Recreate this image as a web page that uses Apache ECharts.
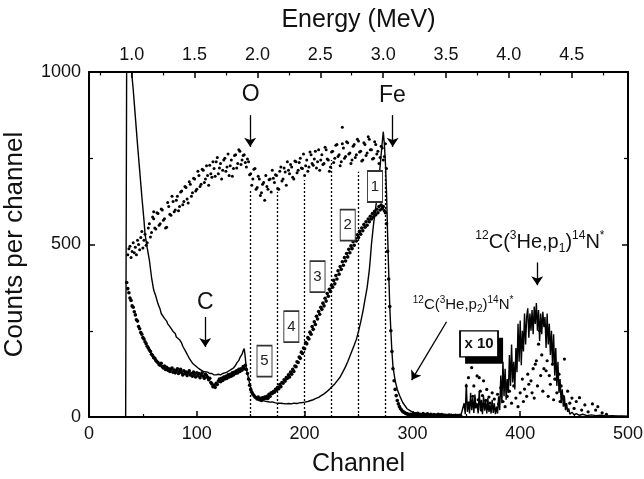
<!DOCTYPE html>
<html><head><meta charset="utf-8">
<script src="https://cdn.jsdelivr.net/npm/echarts@6/dist/echarts.min.js"></script>
<style>html,body{margin:0;padding:0;background:#fff}#c{width:644px;height:479px}</style>
</head><body><div id="c"></div>
<script>
// ---------- axes / ticks ----------
const channelTicks = [0, 100, 200, 300, 400, 500];
const countTicks = [0, 500, 1000];
const energyLabels = [1.0, 1.5, 2.0, 2.5, 3.0, 3.5, 4.0, 4.5];
const energyMinor = [0.75, 1.25, 1.75, 2.25, 2.75, 3.25, 3.75, 4.25, 4.75];
const energyRange = [0.66, 4.948];   // energy at channel 0 and channel 500

// ---------- upper dotted spectrum (one point per channel from 36) ----------
const upperStart = 36;
const upperCounts = [
 470,488,495,462,480,505,476,492,470,512,
 500,485,520,538,490,512,530,498,505,548,
 560,522,535,580,575,548,545,592,590,556,
 560,603,600,570,575,548,550,622,610,588,
 585,640,625,595,600,628,640,598,610,652,
 655,615,625,668,665,632,620,682,675,640,
 650,692,690,655,660,712,700,668,675,718,
 715,680,690,728,700,672,730,705,695,740,
 720,698,740,752,705,722,735,690,715,745,
 750,712,725,762,700,728,745,698,720,758,
 760,722,735,775,770,732,745,758,760,738,
 725,748,740,702,705,672,690,718,720,660,
 665,698,690,642,650,675,680,628,700,668,
 660,688,690,652,715,692,680,702,700,662,
 660,712,725,684,690,722,710,672,740,715,
 705,732,725,695,690,742,740,708,715,738,
 750,722,720,762,700,728,745,712,725,768,
 760,735,730,748,770,722,740,775,715,745,
 760,732,735,782,775,748,745,712,725,768,
 770,738,750,788,790,755,760,728,740,792,
 780,750,755,798,795,762,765,735,745,785,
 790,752,760,805,800,768,770,742,745,795,
 790,758,765,812,805,775,775,748,750,798,
 790,762,770,735,752,785,780,745,755,792,
 720
];
const upperExtraCh = [235, 60];
const upperExtraCounts = [840, 595];

// ---------- lower dotted spectrum (one point per channel from 35) ----------
const lowerStart = 35;
const lowerCounts = [
 390,372,360,345,338,322,318,305,296,282,
 278,262,256,245,240,230,226,218,212,205,
 200,194,190,182,178,172,170,164,160,158,
 152,150,156,146,142,148,138,144,136,140,
 132,138,142,130,136,128,134,140,126,132,
 138,128,122,134,126,130,120,128,134,122,
 126,118,130,124,116,128,120,126,114,122,
 128,118,112,124,120,115,108,112,100,96,
 88,92,86,98,94,104,110,102,112,106,
 116,110,118,112,122,116,124,118,128,122,
 130,126,134,128,138,132,140,136,146,140,
 150,138,126,110,92,80,72,66,62,58,
 56,52,58,50,54,48,56,52,58,54,
 60,54,66,60,70,68,74,72,80,78,
 86,82,94,88,100,98,108,104,114,112,
 122,116,130,124,138,132,148,146,160,158,
 174,170,188,184,200,198,216,212,230,226,
 246,240,262,254,276,268,292,284,306,298,
 318,312,330,322,344,336,358,350,370,364,
 382,376,396,386,410,400,424,414,436,428,
 450,440,462,452,474,464,486,476,496,488,
 508,498,518,510,528,520,538,530,548,540,
 558,550,566,556,574,566,582,574,590,580,
 596,586,602,592,610,600,614,604,610,598,
 592,560,480,400,320,250,190,140,105,80,
 62,48,38,30,24,20,16,14,12,10,
 9,8,7,8,6,7,
 6,9,4,7,11,5,8,3,6,10,
 4,7,5,9,3,6,8,4,5,7,
 3,6,4,8,5,3,7,4,6,3,
 5,2,4,6,3,5,2,4,3,5,
 2,4,3,5,2
];

// ---------- dotted points in the x10 region ----------
const x10DotCh = [350,352,353,355,356,357,358,360,361,362,363,364,365,366,367,368,369,370,371,372,374,375,376,378,379,380,382,384,386,388,390,392,394,396,398,400,402,403,404,406,407,408,410,411,412,413,414,415,416,417,418,419,420,421,422,424,425,426,427,428,430,431,432,433,434,436,437,438,440,441,442,444,446,448,450,452,455,457,460,463,467,470,472,476,480];
const x10DotCounts = [90,114,40,143,60,90,30,119,50,114,75,20,62,105,35,48,80,25,58,40,70,30,52,20,66,38,85,45,30,60,75,40,90,55,30,70,110,45,81,60,124,95,105,70,140,55,153,163,90,211,250,120,180,75,140,134,163,60,120,95,153,50,110,110,70,124,45,90,60,168,35,75,40,55,25,45,56,20,35,15,38,20,30,12,8];

// ---------- solid spectrum ----------
const solidCh = [0,34,35,38,39.5,41,43,45,47,49,51,52,54,56,58,60,62,64,66,67,68,70,72,73,75,78,80,81,84,86,87,90,92,93,96,99,102,104,106,110,112,114,116,118,120,122,124,126,128,130,132,134,136,137,139,140,142,143,144,145,146,148,149,151,153,156,158,160,163,165,168,170,173,175,178,180,183,185,188,190,193,195,198,200,203,205,208,210,213,215,218,220,223,225,228,230,233,235,238,240,242,244,246,248,250,252,254,255,256,258,260,261,262,263,264,265,267,268,270,271,272,273,274,275,276,277,278,279,280,281,282,284,286,288,291,295,300,305,310,315,320,325,330,335,340,345,
 346,348,349,350,351,352,353,354,355,356,357,358,359,360,361,362,363,364,365,366,367,368,369,370,371,372,373,374,375,376,377,378,379,380,381,382,383,384,385,386,387,388,389,390,391,392,393,394,395,396,397,398,399,400,401,402,403,404,405,406,407,408,409,410,411,412,413,414,415,416,417,418,419,420,421,422,423,424,425,426,427,428,429,430,431,432,433,434,435,436,437,438,439,440,441,442,443,444,445,446,448,450,452,455,458,462,466,470,475,480,485,490,495,500];
const solidCounts = [0,0,1100,1100,1000,950,870,790,715,640,570,530,490,455,405,368,350,328,312,300,305,286,278,270,262,248,242,232,224,214,205,188,176,170,156,148,140,136,132,130,126,126,122,122,124,122,126,128,130,134,138,142,150,156,164,172,182,192,198,172,138,112,96,76,63,54,50,48,46,45,43,44,41,40,40,39,38,39,38,40,39,41,42,43,45,47,50,53,57,61,67,72,80,87,96,104,116,128,146,160,176,192,208,225,248,275,305,322,340,375,425,460,500,530,560,585,632,660,725,760,795,827,790,735,650,530,420,320,250,190,145,105,80,63,42,24,14,10,8,7,7,6,6,5,6,5,
 5,40,8,96,15,45,10,70,20,55,12,65,25,40,10,75,20,50,8,60,18,45,10,55,15,35,10,50,12,40,8,30,10,60,20,120,40,160,60,140,50,110,70,180,90,210,100,160,80,200,130,270,160,280,150,250,190,300,210,290,315,230,300,250,310,240,320,270,330,250,310,220,300,240,305,260,290,200,300,210,270,180,250,150,240,120,200,90,160,70,110,40,80,30,60,20,40,15,25,8,14,6,10,5,8,4,6,4,5,3,4,3,3,2];

// ---------- region boundaries and labels ----------
const boundCh = [150, 175, 200, 225, 250, 275];
const boundTop = [658, 653, 687, 745, 711, 725];
const boxLabels = ['1', '2', '3', '4', '5'];
const boxCh = [265.3, 240, 212, 187.7, 162.8];
const boxCounts = [668, 556, 407, 262, 162];
const x10Label = 'x 10';
const x10Pos = [361.8, 212];
const x10ShadowPos = [366.5, 192];

// ---------- text annotations and arrows ----------
const noteTexts = ['O', 'Fe', 'C',
  '{s|12}C({s|3}He,p{b|1}){s|14}N{s|*}',
  '{t|12}C({t|3}He,p{u|2}){t|14}N{t|*}'];
const noteCh = [150, 281.5, 108, 418.3, 347];
const noteCounts = [933, 930, 330, 506, 325];
const noteSizes = [23, 23, 23, 20, 15];
const arrowFrom = [[149.5, 875], [281.7, 875], [107.8, 290], [415.8, 448], [331.7, 276]];
const arrowTo   = [[149.5, 783], [281.7, 783], [107.8, 203], [415.8, 382], [299.3, 107]];

// ---------- build ----------
const FONT = '"Liberation Sans", Arial, Helvetica, sans-serif';
const upperData = upperCounts.map((v, i) => [upperStart + i, v]).concat(upperExtraCh.map((c, i) => [c, upperExtraCounts[i]]));
const lowerData = lowerCounts.map((v, i) => [lowerStart + i, v]);
const x10DotData = x10DotCh.map((c, i) => [c, x10DotCounts[i]]);
const solidData = solidCh.map((c, i) => [c, solidCounts[i]]);

const axisLineStyle = {color: '#000', width: 2};
const tickStyle = {color: '#000', width: 1.5};
const labelStyle = {fontSize: 18, color: '#111', fontFamily: FONT};
const nameStyle = {fontSize: 25, color: '#111', fontFamily: FONT};
const gridBox = {left: 89, right: 16, top: 72, bottom: 62, outerBoundsMode: 'none', containLabel: false};

const chart = echarts.init(document.getElementById('c'), null, {renderer: 'canvas'});
chart.setOption({
  animation: false,
  backgroundColor: '#fff',
  grid: [Object.assign({}, gridBox), Object.assign({}, gridBox)],
  xAxis: [
    {type: 'value', gridIndex: 0, position: 'bottom', min: 0, max: 500, interval: 100,
     axisLine: {show: true, onZero: false, lineStyle: axisLineStyle},
     axisTick: {show: true, inside: true, length: 6, lineStyle: tickStyle},
     minorTick: {show: true, splitNumber: 2, length: 3, lineStyle: {color: '#000', width: 1.2}},
     splitLine: {show: false}, minorSplitLine: {show: false},
     axisLabel: Object.assign({margin: 8, customValues: channelTicks, formatter: v => String(v)}, labelStyle),
     name: 'Channel', nameLocation: 'middle', nameGap: 35, nameTextStyle: nameStyle},
    {type: 'value', gridIndex: 0, position: 'top', min: energyRange[0], max: energyRange[1],
     axisLine: {show: true, onZero: false, lineStyle: axisLineStyle},
     axisTick: {show: true, inside: true, length: 6, customValues: energyLabels, lineStyle: tickStyle},
     splitLine: {show: false},
     axisLabel: Object.assign({margin: 8, customValues: energyLabels, formatter: v => v.toFixed(1)}, labelStyle),
     name: 'Energy (MeV)', nameLocation: 'middle', nameGap: 39, nameTextStyle: nameStyle},
    {type: 'value', gridIndex: 1, position: 'top', min: energyRange[0], max: energyRange[1],
     axisLine: {show: false, onZero: false},
     axisTick: {show: true, inside: true, length: 3.5, customValues: energyMinor, lineStyle: {color: '#000', width: 1.2}},
     splitLine: {show: false}, axisLabel: {show: false}}
  ],
  yAxis: [
    {type: 'value', gridIndex: 0, position: 'left', min: 0, max: 1000, interval: 500,
     axisLine: {show: true, onZero: false, lineStyle: axisLineStyle},
     axisTick: {show: true, inside: true, length: 6, lineStyle: tickStyle},
     minorTick: {show: true, splitNumber: 2, length: 4, lineStyle: {color: '#000', width: 1.2}},
     splitLine: {show: false}, minorSplitLine: {show: false},
     axisLabel: Object.assign({margin: 8, customValues: countTicks, formatter: v => String(v)}, labelStyle),
     name: 'Counts per channel', nameLocation: 'middle', nameGap: 61, nameRotate: 90,
     nameTextStyle: Object.assign({}, nameStyle, {fontSize: 26})},
    {type: 'value', gridIndex: 0, position: 'right', min: 0, max: 1000, interval: 500,
     axisLine: {show: true, onZero: false, lineStyle: axisLineStyle},
     axisTick: {show: true, inside: true, length: 6, lineStyle: tickStyle},
     minorTick: {show: true, splitNumber: 2, length: 4, lineStyle: {color: '#000', width: 1.2}},
     splitLine: {show: false}, minorSplitLine: {show: false},
     axisLabel: {show: false}},
    {type: 'value', gridIndex: 1, min: 0, max: 1000, show: false}
  ],
  series: [
    {name: 'upper', type: 'scatter', xAxisIndex: 0, yAxisIndex: 0, data: upperData,
     symbolSize: 3, itemStyle: {color: '#000', opacity: 1}, silent: true, z: 2},
    {name: 'lower', type: 'scatter', xAxisIndex: 0, yAxisIndex: 0, data: lowerData,
     symbolSize: 3.6, itemStyle: {color: '#000', opacity: 1}, silent: true, z: 2},
    {name: 'x10dots', type: 'scatter', xAxisIndex: 0, yAxisIndex: 0, data: x10DotData,
     symbolSize: 3.2, itemStyle: {color: '#000', opacity: 1}, silent: true, z: 2},
    {name: 'solid', type: 'line', xAxisIndex: 0, yAxisIndex: 0, data: solidData,
     showSymbol: false, symbol: 'none', lineStyle: {color: '#000', width: 1.4}, silent: true, z: 3},
    {name: 'bounds', type: 'line', xAxisIndex: 0, yAxisIndex: 0, data: [],
     markLine: {silent: true, symbol: ['none', 'none'], label: {show: false}, animation: false,
       lineStyle: {type: [2, 2], color: '#000', width: 1.3},
       emphasis: {disabled: true},
       data: boundCh.map((c, i) => [{coord: [c, 0]}, {coord: [c, boundTop[i]]}])}},
    {name: 'arrows', type: 'line', xAxisIndex: 0, yAxisIndex: 0, data: [],
     markLine: {silent: true, symbol: ['none', 'arrow'], symbolSize: 9, label: {show: false}, animation: false,
       lineStyle: {type: 'solid', color: '#000', width: 1.3},
       itemStyle: {color: '#000'},
       emphasis: {disabled: true},
       data: arrowFrom.map((p, i) => [{coord: p}, {coord: arrowTo[i]}])}},
    {name: 'boxes', type: 'scatter', xAxisIndex: 0, yAxisIndex: 0, symbol: 'rect', symbolSize: [15, 31],
     data: boxLabels.map((t, i) => ({name: t, value: [boxCh[i], boxCounts[i]]})),
     itemStyle: {color: '#fff', borderColor: '#333', borderWidth: 1.3, opacity: 1},
     label: {show: true, position: 'inside', formatter: p => p.name, fontSize: 15, color: '#222', fontFamily: FONT},
     silent: true, z: 6},
    {name: 'x10shadow', type: 'scatter', xAxisIndex: 0, yAxisIndex: 0, symbol: 'rect', symbolSize: [38, 26],
     data: [{name: '', value: x10ShadowPos}],
     itemStyle: {color: '#000', opacity: 1},
     label: {show: false}, silent: true, z: 6},
    {name: 'x10box', type: 'scatter', xAxisIndex: 0, yAxisIndex: 0, symbol: 'rect', symbolSize: [38, 26],
     data: [{name: x10Label, value: x10Pos}],
     itemStyle: {color: '#fff', borderColor: '#000', borderWidth: 1.5, opacity: 1},
     label: {show: true, position: 'inside', formatter: p => p.name, fontSize: 15, fontWeight: 'bold', color: '#111', fontFamily: FONT},
     silent: true, z: 7},
    {name: 'notes', type: 'scatter', xAxisIndex: 0, yAxisIndex: 0, symbolSize: 1,
     itemStyle: {color: 'rgba(0,0,0,0)', opacity: 1},
     data: noteTexts.map((t, i) => ({name: t, value: [noteCh[i], noteCounts[i]],
       label: {fontSize: noteSizes[i], lineHeight: Math.round(noteSizes[i] * 1.25)}})),
     label: {show: true, position: 'inside', formatter: p => p.name, color: '#111', fontFamily: FONT,
       rich: {
         s: {fontSize: 12, verticalAlign: 'top', lineHeight: 25, color: '#111', fontFamily: FONT},
         b: {fontSize: 12, verticalAlign: 'bottom', lineHeight: 25, color: '#111', fontFamily: FONT},
         t: {fontSize: 10, verticalAlign: 'top', lineHeight: 19, color: '#111', fontFamily: FONT},
         u: {fontSize: 10, verticalAlign: 'bottom', lineHeight: 19, color: '#111', fontFamily: FONT}
       }},
     silent: true, z: 8}
  ]
});
</script>
</body></html>
